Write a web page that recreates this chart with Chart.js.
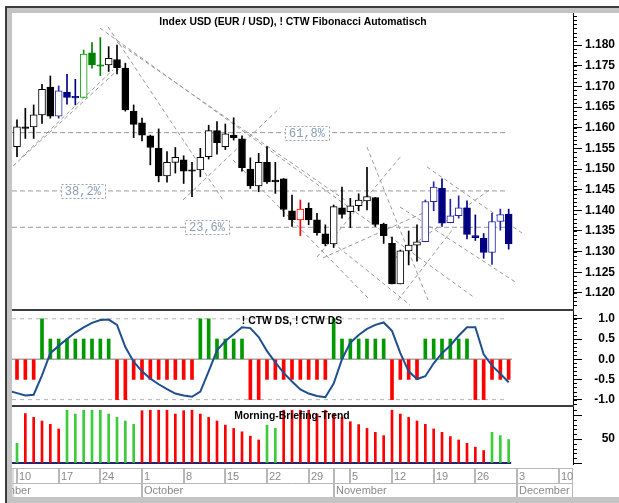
<!DOCTYPE html>
<html>
<head>
<meta charset="utf-8">
<script src="https://cdn.jsdelivr.net/npm/chart.js@4.4.0/dist/chart.umd.min.js"></script>
<style>
  html, body { margin: 0; padding: 0; background: #fff; }
  #page { position: relative; width: 619px; height: 503px; overflow: hidden; background: #fff; }
  #frame { position: absolute; left: 5px; top: 6px; right: 0; bottom: 0; background: #c4c4c4; border-left: 2px solid #3c3c3c; border-top: 2px solid #3c3c3c; }
  #sheet { position: absolute; left: 12px; top: 13px; width: 607px; height: 484px; background: #fff; }
  canvas { position: absolute; left: 0; }
  .sep { position: absolute; left: 12px; width: 562px; height: 2px; background: #3c3c3c; }
</style>
</head>
<body>
<div id="page">
  <div id="frame"></div>
  <div id="sheet"></div>
  <canvas id="price" width="619" height="296" style="top:13px"></canvas>
  <canvas id="osc" width="619" height="95" style="top:311px"></canvas>
  <canvas id="trend" width="619" height="90" style="top:407px"></canvas>
  <div class="sep" style="top:309px"></div>
  <div class="sep" style="top:405px"></div>
</div>
<script>
// day index 0 = Mon 10 Sep, 59 = Fri 30 Nov (trading days only)
const opens = [1.1554, 1.1602, 1.1602, 1.1631, 1.1698, 1.1628, 1.1686, 1.1676, 1.1673, 1.1781,
  1.1752, 1.1752, 1.1765, 1.1744, 1.1640, 1.1612, 1.1580, 1.1550, 1.1483, 1.1516,
  1.1522, 1.1498, 1.1498, 1.1530, 1.1593, 1.1554, 1.1582, 1.1573, 1.1500, 1.1459,
  1.1516, 1.1473, 1.1476, 1.1399, 1.1377, 1.1405, 1.1377, 1.1343, 1.1319, 1.1406,
  1.1397, 1.1411, 1.1423, 1.1431, 1.1367, 1.1320, 1.1222, 1.1302, 1.1316, 1.1324,
  1.1421, 1.1453, 1.1370, 1.1387, 1.1406, 1.1339, 1.1332, 1.1298, 1.1373, 1.1391]
const highs = [1.1619, 1.1647, 1.1655, 1.1705, 1.1725, 1.1701, 1.1729, 1.1717, 1.1788, 1.1806,
  1.1818, 1.1796, 1.1800, 1.1756, 1.1655, 1.1623, 1.1582, 1.1597, 1.1542, 1.1552,
  1.1532, 1.1516, 1.1550, 1.1606, 1.1615, 1.1609, 1.1624, 1.1580, 1.1527, 1.1538,
  1.1554, 1.1516, 1.1477, 1.1437, 1.1425, 1.1418, 1.1393, 1.1365, 1.1413, 1.1456,
  1.1429, 1.1440, 1.1504, 1.1431, 1.1369, 1.1335, 1.1304, 1.1350, 1.1365, 1.1425,
  1.1469, 1.1476, 1.1427, 1.1435, 1.1423, 1.1389, 1.1344, 1.1393, 1.1403, 1.1403]
const lows = [1.1530, 1.1574, 1.1574, 1.1610, 1.1623, 1.1623, 1.1657, 1.1655, 1.1673, 1.1744,
  1.1726, 1.1736, 1.1730, 1.1640, 1.1576, 1.1568, 1.1510, 1.1469, 1.1468, 1.1490,
  1.1465, 1.1433, 1.1481, 1.1524, 1.1536, 1.1547, 1.1570, 1.1495, 1.1453, 1.1445,
  1.1465, 1.1441, 1.1385, 1.1361, 1.1339, 1.1365, 1.1340, 1.1314, 1.1310, 1.1381,
  1.1358, 1.1399, 1.1401, 1.1361, 1.1320, 1.1222, 1.1222, 1.1268, 1.1277, 1.1324,
  1.1399, 1.1361, 1.1370, 1.1381, 1.1331, 1.1327, 1.1284, 1.1269, 1.1352, 1.1306]
const closes = [1.1602, 1.1598, 1.1631, 1.1693, 1.1628, 1.1689, 1.1673, 1.1672, 1.1778, 1.1752,
  1.1749, 1.1768, 1.1745, 1.1643, 1.1608, 1.1582, 1.1552, 1.1483, 1.1516, 1.1528,
  1.1495, 1.1495, 1.1528, 1.1593, 1.1564, 1.1585, 1.1576, 1.1503, 1.1459, 1.1516,
  1.1469, 1.1469, 1.1402, 1.1377, 1.1403, 1.1377, 1.1346, 1.1319, 1.1409, 1.1390,
  1.1411, 1.1425, 1.1433, 1.1366, 1.1339, 1.1222, 1.1302, 1.1316, 1.1324, 1.1421,
  1.1456, 1.1369, 1.1387, 1.1406, 1.1342, 1.1334, 1.1298, 1.1373, 1.1390, 1.1319]
// K black, B blue, G green, R red
const candleTone = ('KKKKK' + 'BBB' + 'GGG' + 'KKKKKKKKKKKKKKKKKKKKKKK' + 'R' +
  'KKKKKKKKKKKKKK' + 'BBBBBBBBBBB').split('')

const priceTicks = [1.120, 1.125, 1.130, 1.135, 1.140, 1.145, 1.150, 1.155, 1.160, 1.165, 1.170, 1.175, 1.180]
const fibLevels = [1.1588, 1.1447, 1.1359]
const fibLabels = ['61,8%', '38,2%', '23,6%']
const fibLabelDay = [34.8, 7.9, 22.8]
const fibSpan = [-0.6, 58.8]
// [day1, value1, day2, value2]
const trendLines = [
  [-0.48, 1.1507, 12.60, 1.1749],
  [0.48, 1.1527, 11.52, 1.1740],
  [9.96, 1.1841, 54.96, 1.1188],
  [10.92, 1.1844, 24.72, 1.1425],
  [12.0, 1.1807, 39.36, 1.1425],
  [25.92, 1.1522, 42.36, 1.1183],
  [19.92, 1.1425, 31.56, 1.1648],
  [36.0, 1.1287, 46.2, 1.1534],
  [36.72, 1.1285, 49.56, 1.1401],
  [42.0, 1.1553, 49.32, 1.1183],
  [49.2, 1.1505, 60.96, 1.1340],
  [45.96, 1.1408, 60.0, 1.1224],
  [45.36, 1.1285, 57.0, 1.1454],
  [45.72, 1.1183, 52.2, 1.1352],
  [37.92, 1.1321, 47.16, 1.1171],
]

const oscBars = [-0.5, -0.5, -0.5, 1.0, 0.5, 0.5, 0.5, 0.5, 0.5, 0.5,
  0.5, 0.5, -1.0, -1.0, -0.5, -0.5, -0.5, -0.5, -0.5, -0.5,
  -0.5, -0.5, 1.0, 1.0, 0.5, 0.5, 0.5, 0.5, -1.0, -1.0,
  -0.5, -0.5, -0.5, -0.5, -0.5, -0.5, -0.5, -0.5, 1.0, 0.5,
  0.5, 0.5, 0.5, 0.5, 0.5, -1.0, -0.5, -0.5, -0.5, 0.5,
  0.5, 0.5, 0.5, 0.5, 0.5, -1.0, -1.0, -0.5, -0.5, -0.5]
// starts one day earlier (Fri 7 Sep)
const oscLine = [-0.78, -0.84, -0.90, -0.88, -0.40, 0.15, 0.33, 0.50, 0.66, 0.79,
  0.90, 0.97, 0.98, 0.85, 0.30, -0.06, -0.30, -0.48, -0.62, -0.74,
  -0.85, -0.90, -0.93, -0.80, -0.30, 0.22, 0.45, 0.62, 0.79, 0.77,
  0.55, 0.20, -0.08, -0.34, -0.55, -0.75, -0.85, -0.91, -0.94, -0.60,
  0.00, 0.41, 0.60, 0.75, 0.85, 0.91, 0.70, 0.15, -0.30, -0.49,
  -0.42, -0.10, 0.15, 0.34, 0.58, 0.79, 0.79, 0.12, -0.16, -0.36, -0.57]
const oscTicks = [-1, -0.5, 0, 0.5, 1]

const trendValues = [41, 103, 95, 87.5, 80.6, 70.8, 110, 102, 110, 110,
  110, 102, 95, 87.5, 80.6, 109, 110, 110, 110, 102,
  109, 110, 102, 95, 87.5, 79, 72, 65, 56, 48,
  79, 72, 110, 110, 110, 110, 102, 110, 102, 95,
  86, 80, 72, 64, 57, 110, 102, 95, 87.5, 80.6,
  71, 64, 55, 48, 41, 33, 26, 64, 57, 49]
const trendDir = ('G' + 'RRRRR' + 'GGGGGGGGG' + 'RRRRRRRRRRRRRRR' + 'GG' +
  'RRRRRRRRRRRRRRRRRRRRRRRRR' + 'GGG').split('')
const trendTicks = [0, 50, 100]

const weekDays = [0, 5, 10, 15, 20, 25, 30, 35, 40, 45, 50, 55, 60, 65]
const weekLabels = ['10', '17', '24', '1', '8', '15', '22', '29', '5', '12', '19', '26', '3', '10']
const monthDays = [-5, 15, 38, 60]
const monthLabels = ['September', 'October', 'November', 'December']

const X_MIN = -0.6, X_MAX = 66.72
// axis strip 573..615, labels right aligned on its far edge
const AXIS_W = 42
const PAD_RIGHT = 4

Chart.defaults.font.family = 'Liberation Sans'
Chart.defaults.animation = false

const toneLine = { K: '#000000', B: '#2424a8', G: '#00a000', R: '#ff0000' }
const toneFill = { K: '#000000', B: '#000080', G: '#008000', R: '#ff0000' }

const minorTicks = {
  id: 'minorTicks',
  afterDraw(chart, args, opts) {
    const s = chart.scales.y, ctx = chart.ctx
    ctx.save()
    ctx.strokeStyle = '#000'
    ctx.lineWidth = 1
    ctx.beginPath()
    for (let k = Math.ceil(opts.from / opts.step); k * opts.step <= opts.to + 1e-9; k++) {
      const y = Math.round(s.getPixelForValue(k * opts.step)) + 0.5
      ctx.moveTo(s.left, y)
      ctx.lineTo(s.left + 4, y)
    }
    ctx.stroke()
    ctx.restore()
  }
}

const captions = {
  id: 'captions',
  afterDatasetsDraw(chart, args, opts) {
    const ctx = chart.ctx
    ctx.save()
    ctx.textAlign = 'center'
    ctx.textBaseline = 'middle'
    ctx.font = 'bold 10.4px "Liberation Sans"'
    ctx.fillStyle = '#000'
    ctx.fillText(opts.text, opts.x, opts.y)
    ctx.restore()
  }
}

const fibBoxes = {
  id: 'fibBoxes',
  afterDatasetsDraw(chart) {
    const { x, y } = chart.scales
    const ctx = chart.ctx
    ctx.save()
    fibLevels.forEach((lvl, k) => {
      const cx = x.getPixelForValue(fibLabelDay[k])
      const cy = Math.round(y.getPixelForValue(lvl))
      const w = 44, h = 14
      const bx = Math.round(cx - w / 2) + 0.5, by = cy - h / 2 + 0.5
      ctx.fillStyle = '#fff'
      ctx.fillRect(bx, by, w, h)
      ctx.setLineDash([2, 2])
      ctx.strokeStyle = '#a0a0a0'
      ctx.lineWidth = 1
      ctx.strokeRect(bx, by, w, h)
      ctx.setLineDash([])
      ctx.fillStyle = '#8a9bb3'
      ctx.font = '12px "Liberation Mono"'
      ctx.textAlign = 'center'
      ctx.textBaseline = 'middle'
      ctx.fillText(fibLabels[k], cx, cy + 1)
    })
    ctx.restore()
  }
}

const dateStrip = {
  id: 'dateStrip',
  afterDraw(chart) {
    const xs = chart.scales.x, ctx = chart.ctx
    const left = chart.chartArea.left, right = chart.chartArea.right
    const top = 61, mid = 76, bottom = 90
    ctx.save()
    ctx.beginPath()
    ctx.rect(left, top, right - left, bottom - top)
    ctx.clip()
    ctx.strokeStyle = '#b8b8b8'
    ctx.lineWidth = 1
    ctx.beginPath()
    ctx.moveTo(left, top + 0.5); ctx.lineTo(right, top + 0.5)
    ctx.moveTo(left, mid + 0.5); ctx.lineTo(right, mid + 0.5)
    ctx.moveTo(left + 1, top); ctx.lineTo(left + 1, bottom)
    ctx.moveTo(right - 0.5, top); ctx.lineTo(right - 0.5, bottom)
    ctx.stroke()
    ctx.font = '11px "Liberation Sans"'
    ctx.fillStyle = '#8a8a8a'
    ctx.textAlign = 'left'
    ctx.textBaseline = 'alphabetic'
    ctx.lineWidth = 2
    weekDays.forEach((d, k) => {
      const px = Math.round(xs.getPixelForValue(d))
      ctx.beginPath(); ctx.moveTo(px, top); ctx.lineTo(px, mid); ctx.stroke()
      ctx.fillText(weekLabels[k], px + 2, mid - 3)
    })
    monthDays.forEach((d, k) => {
      const px = Math.round(xs.getPixelForValue(d))
      ctx.beginPath(); ctx.moveTo(px, top); ctx.lineTo(px, bottom); ctx.stroke()
      ctx.fillText(monthLabels[k], px + 2, bottom - 3)
    })
    ctx.restore()
  }
}

function rightAxis(min, max, ticks, fmt) {
  return {
    type: 'linear', position: 'right', min, max,
    afterFit: s => { s.width = AXIS_W; s.paddingTop = 0; s.paddingBottom = 0 },
    afterBuildTicks: s => { s.ticks = ticks.map(v => ({ value: v })) },
    border: { display: true, color: '#000', width: 1 },
    grid: { drawOnChartArea: false, drawTicks: true, tickLength: 9, tickColor: '#000' },
    ticks: { padding: 1, crossAlign: 'far', color: '#000', font: { size: 12, weight: 'bold' }, callback: fmt }
  }
}
const xAxis = { type: 'linear', min: X_MIN, max: X_MAX, offset: false, display: false }
const baseOpts = { responsive: false, devicePixelRatio: 1, events: [], animation: false }
const plainPlugins = { legend: { display: false }, tooltip: { enabled: false } }

function segment(x1, y1, x2, y2, color, width, dash) {
  return {
    type: 'line', data: [{ x: x1, y: y1 }, { x: x2, y: y2 }],
    borderColor: color, borderWidth: width, borderDash: dash || [],
    pointRadius: 0, tension: 0, order: 5
  }
}

// price panel
const up = closes.map((c, i) => c >= opens[i])
new Chart(document.getElementById('price'), {
  type: 'bar',
  data: {
    datasets: [
      {
        data: opens.map((o, i) => ({ x: i, y: [o, closes[i]] })),
        backgroundColor: candleTone.map((t, i) => up[i] ? '#ffffff' : toneFill[t]),
        borderColor: candleTone.map((t, i) => up[i] ? toneLine[t] : toneFill[t]),
        borderWidth: 1, borderSkipped: false, barThickness: 7, grouped: false, order: 1
      },
      {
        data: highs.map((h, i) => ({ x: i, y: [lows[i], h] })),
        backgroundColor: candleTone.map((t, i) => up[i] ? toneLine[t] : toneFill[t]),
        borderWidth: 0, barThickness: 1, grouped: false, order: 2
      },
      ...fibLevels.map(l => segment(fibSpan[0], l, fibSpan[1], l, '#9a9a9a', 1, [5, 3])),
      ...trendLines.map(t => segment(t[0], t[1], t[2], t[3], '#9a9a9a', 1, [4, 3]))
    ]
  },
  options: {
    ...baseOpts,
    layout: { padding: { left: 12, right: PAD_RIGHT, top: 0, bottom: 0 } },
    scales: { x: xAxis, y: rightAxis(1.116129, 1.187742, priceTicks, v => v.toFixed(3)) },
    plugins: {
      ...plainPlugins,
      minorTicks: { from: 1.117, to: 1.187, step: 0.001 },
      captions: { text: 'Index USD (EUR / USD), ! CTW Fibonacci Automatisch', x: 293, y: 9 }
    }
  },
  plugins: [minorTicks, fibBoxes, captions]
})

// CTW DS panel
new Chart(document.getElementById('osc'), {
  type: 'bar',
  data: {
    datasets: [
      {
        type: 'line',
        data: oscLine.map((v, i) => ({ x: i - 1, y: v })),
        borderColor: '#1f4f8f', borderWidth: 2, pointRadius: 0, tension: 0, order: 0
      },
      {
        data: oscBars.map((v, i) => ({ x: i, y: v })),
        backgroundColor: oscBars.map(v => v > 0 ? '#009900' : '#ff0000'),
        barThickness: 3, grouped: false, order: 1
      },
      segment(fibSpan[0], 1, fibSpan[1], 1, '#b4b4b4', 1, [4, 4]),
      segment(fibSpan[0], -1, fibSpan[1], -1, '#b4b4b4', 1, [4, 4]),
      segment(fibSpan[0], 0, 59.4, 0, '#a8a8a8', 1.5)
    ]
  },
  options: {
    ...baseOpts,
    layout: { padding: { left: 12, right: PAD_RIGHT, top: 0, bottom: 0 } },
    scales: { x: xAxis, y: rightAxis(-1.158, 1.193, oscTicks, v => v.toFixed(1)) },
    plugins: {
      ...plainPlugins,
      minorTicks: { from: -1.1, to: 1.1, step: 0.1 },
      captions: { text: '! CTW DS, ! CTW DS', x: 292, y: 10 }
    }
  },
  plugins: [minorTicks, captions]
})

// Morning-Briefing-Trend panel
new Chart(document.getElementById('trend'), {
  type: 'bar',
  data: {
    datasets: [
      {
        data: trendValues.map((v, i) => ({ x: i, y: v })),
        backgroundColor: trendDir.map(d => d === 'G' ? '#3ccc3c' : '#ff0000'),
        barThickness: 2, grouped: false, order: 1
      },
      segment(fibSpan[0], 0, 59.3, 0, '#23236f', 2)
    ]
  },
  options: {
    ...baseOpts,
    layout: { padding: { left: 12, right: PAD_RIGHT, top: 0, bottom: 33 } },
    scales: { x: xAxis, y: rightAxis(-2.08, 116.67, trendTicks, v => v === 50 ? '50' : '') },
    plugins: {
      ...plainPlugins,
      minorTicks: { from: 0, to: 110, step: 10 },
      captions: { text: 'Morning-Briefing-Trend', x: 292, y: 9 }
    }
  },
  plugins: [minorTicks, captions, dateStrip]
})
</script>
</body>
</html>
